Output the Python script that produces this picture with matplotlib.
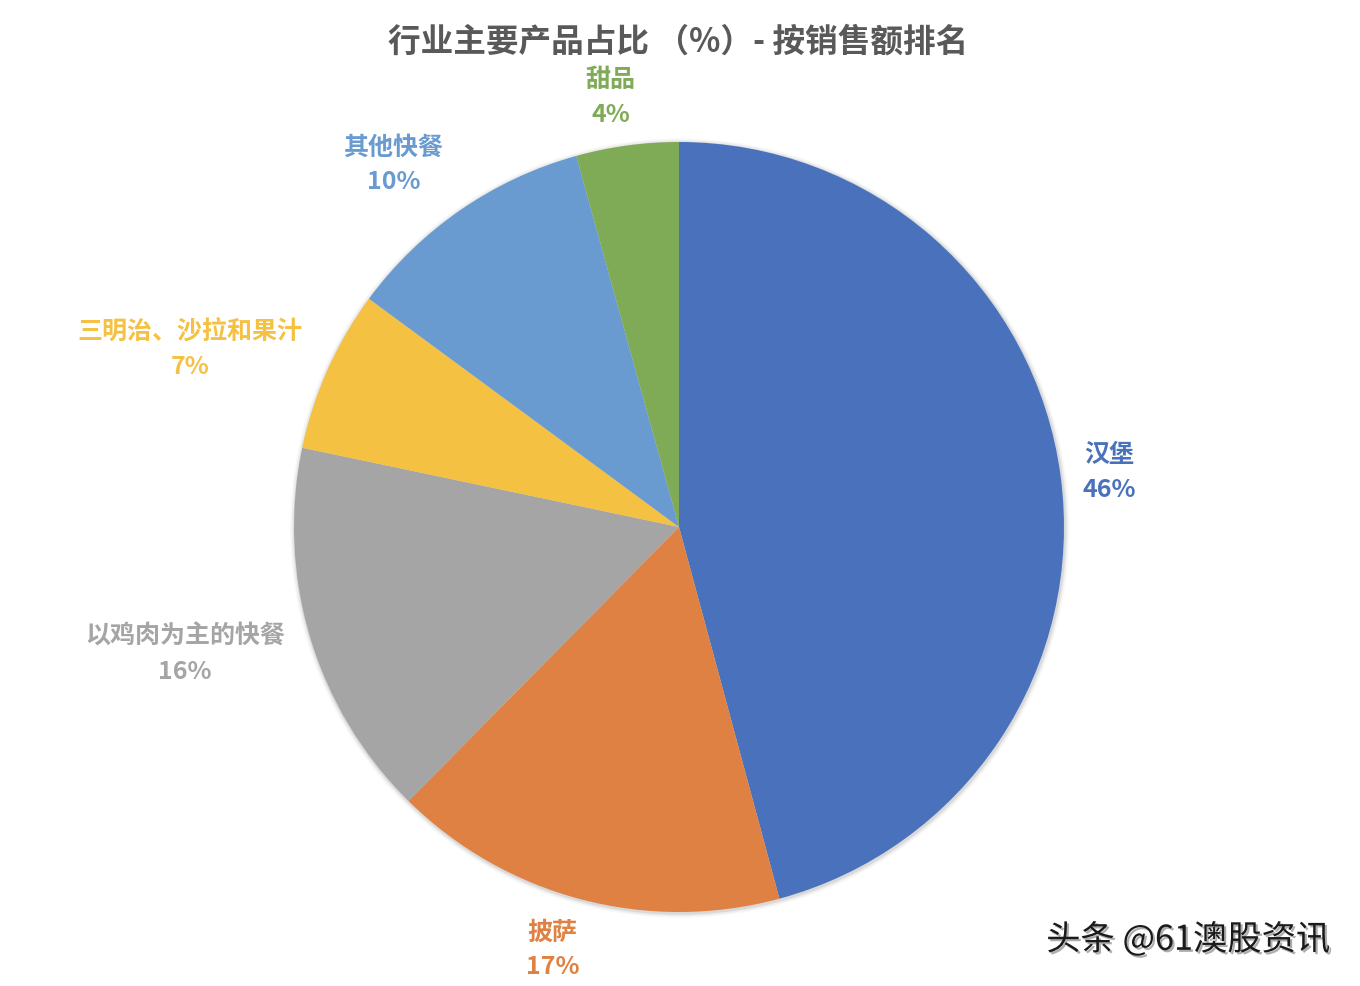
import numpy as np
import matplotlib.pyplot as plt
import matplotlib.patheffects as pe
from matplotlib.patches import Circle

plt.rcParams['font.family'] = ['Noto Sans CJK SC', 'DejaVu Sans']

labels = ['汉堡', '披萨', '以鸡肉为主的快餐', '三明治、沙拉和果汁', '其他快餐', '甜品']
shares = [45.8, 16.6, 15.9, 6.8, 10.6, 4.3]      # slice sizes
pct_text = ['46%', '17%', '16%', '7%', '10%', '4%']  # labels as printed
colors = ['#4A72BC', '#DF8142', '#A5A5A5', '#F5C142', '#699BD0', '#7FAB56']
label_dist = [1.126, 1.147, 1.325, 1.351, 1.198, 1.129]
label_turn = [-0.3, -1.9, -2.3, 4.2, 3.7, 1.3]   # degrees, best-fit nudge

W, H = 1360, 986
cx, cy, R = 679, 527, 385

fig = plt.figure(figsize=(W / 100, H / 100), dpi=100)
ax = fig.add_axes([0, 0, 1, 1])

# soft shadow round the pie
for r, a in [(1.012, 0.06), (1.008, 0.10), (1.004, 0.18)]:
    ax.add_patch(Circle((0.002, -0.003), r, facecolor='#888888', edgecolor='none', alpha=a, zorder=0))

wedges, _ = ax.pie(shares, colors=colors, startangle=90, counterclock=False,
                   radius=1, center=(0, 0), wedgeprops=dict(linewidth=0, zorder=1))

for w, lab, p, d, t, c in zip(wedges, labels, pct_text, label_dist, label_turn, colors):
    ang = np.deg2rad((w.theta1 + w.theta2) / 2 + t)
    x, y = d * np.cos(ang), d * np.sin(ang)
    ax.text(x, y, f'{lab}\n{p}', ha='center', va='center', color=c,
            fontsize=18, fontweight='bold', linespacing=1.56)

ax.set_xlim(-cx / R, (W - cx) / R)
ax.set_ylim(-(H - cy) / R, cy / R)
ax.set_aspect('auto')
ax.axis('off')

fig.text(678 / W, 1 - 42 / H, '行业主要产品占比 （%）- 按销售额排名', ha='center', va='center',
         fontsize=23.5, fontweight='bold', color='#595959')
fig.text(1188 / W, 1 - 940 / H, '头条 @61澳股资讯', ha='center', va='center',
         fontsize=24.7, color='#1a1a1a',
         path_effects=[pe.SimplePatchShadow(offset=(1.5, -1.5), shadow_rgbFace='#999999', alpha=0.8), pe.Normal()])

fig.savefig('out.png', dpi=100)
